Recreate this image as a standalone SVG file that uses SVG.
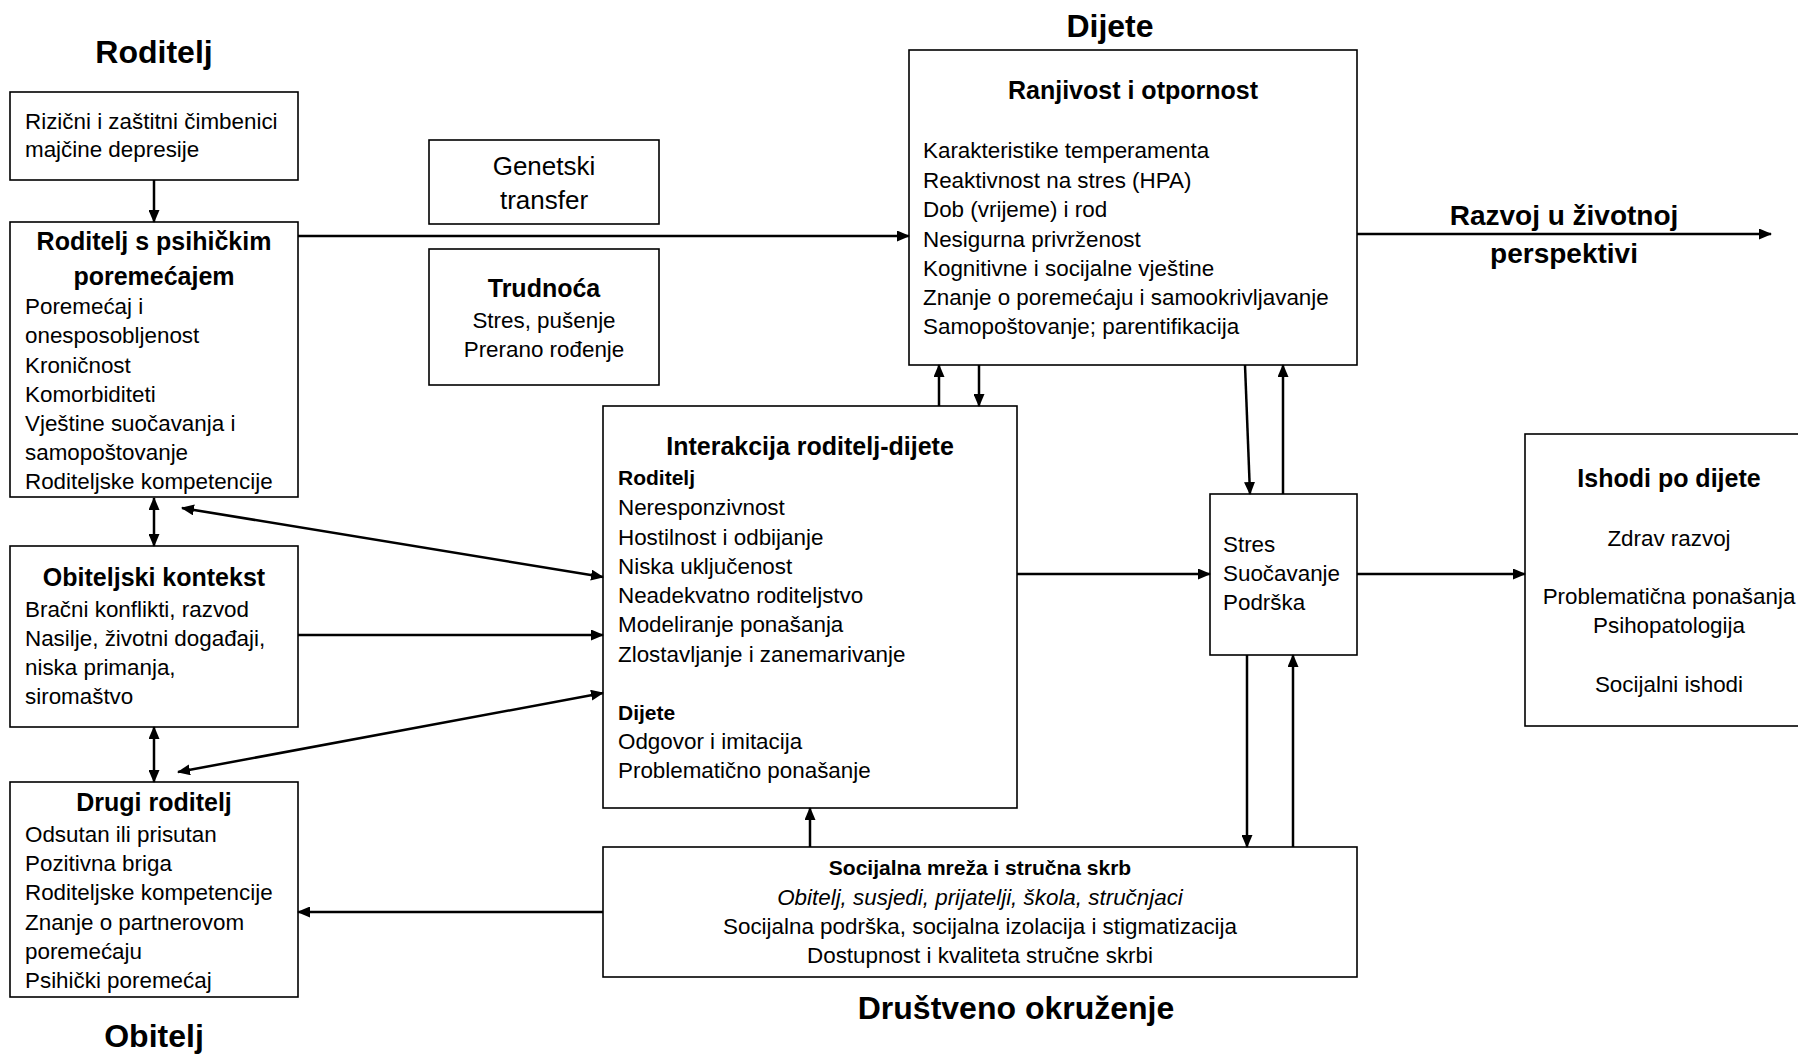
<svg xmlns="http://www.w3.org/2000/svg" width="1798" height="1054" viewBox="0 0 1798 1054">
<defs>
<style>
.bg{fill:#fff}
.box{fill:#fff;stroke:#000;stroke-width:1.6}
text{font-family:"Liberation Sans",Arial,sans-serif;font-size:22.4px;fill:#000}
.h{font-weight:bold;font-size:25px}
.sub{font-weight:bold;font-size:21px}
.c{text-anchor:middle}
.title{font-weight:bold;font-size:32px;text-anchor:middle}
.big{font-weight:bold;font-size:28px;text-anchor:middle}
.gen{font-size:26px;text-anchor:middle}
.it{font-style:italic}
.conn line{stroke:#000;stroke-width:2.5;fill:none}
</style>
<marker id="ah" markerUnits="userSpaceOnUse" markerWidth="13" markerHeight="11" refX="12" refY="5.5" orient="auto-start-reverse">
<path d="M0,0 L13,5.5 L0,11 z" fill="#000"/>
</marker>
</defs>
<rect class="bg" x="0" y="0" width="1798" height="1054"/>

<g id="titles">
<text class="title" x="154" y="63">Roditelj</text>
<text class="title" x="1110" y="37">Dijete</text>
<text class="title" x="154" y="1047">Obitelj</text>
<text class="title" x="1016" y="1019">Društveno okruženje</text>
<text class="big" x="1564" y="225">Razvoj u životnoj</text>
<text class="big" x="1564" y="263">perspektivi</text>
</g>

<g id="node-rizicni">
<rect class="box" x="10" y="92" width="288" height="88"/>
<text x="25" y="129">Rizični i zaštitni čimbenici</text>
<text x="25" y="157">majčine depresije</text>
</g>

<g id="node-roditelj-poremecaj">
<rect class="box" x="10" y="222" width="288" height="275"/>
<text class="h c" x="154" y="250">Roditelj s psihičkim</text>
<text class="h c" x="154" y="285">poremećajem</text>
<text x="25" y="314">Poremećaj i</text>
<text x="25" y="343">onesposobljenost</text>
<text x="25" y="373">Kroničnost</text>
<text x="25" y="402">Komorbiditeti</text>
<text x="25" y="431">Vještine suočavanja i</text>
<text x="25" y="460">samopoštovanje</text>
<text x="25" y="489">Roditeljske kompetencije</text>
</g>

<g id="node-genetski">
<rect class="box" x="429" y="140" width="230" height="84"/>
<text class="gen" x="544" y="175">Genetski</text>
<text class="gen" x="544" y="209">transfer</text>
</g>

<g id="node-trudnoca">
<rect class="box" x="429" y="249" width="230" height="136"/>
<text class="h c" x="544" y="297">Trudnoća</text>
<text class="c" x="544" y="328">Stres, pušenje</text>
<text class="c" x="544" y="357">Prerano rođenje</text>
</g>

<g id="node-ranjivost">
<rect class="box" x="909" y="50" width="448" height="315"/>
<text class="h c" x="1133" y="99">Ranjivost i otpornost</text>
<text x="923" y="158">Karakteristike temperamenta</text>
<text x="923" y="188">Reaktivnost na stres (HPA)</text>
<text x="923" y="217">Dob (vrijeme) i rod</text>
<text x="923" y="247">Nesigurna privrženost</text>
<text x="923" y="276">Kognitivne i socijalne vještine</text>
<text x="923" y="305">Znanje o poremećaju i samookrivljavanje</text>
<text x="923" y="334">Samopoštovanje; parentifikacija</text>
</g>

<g id="node-interakcija">
<rect class="box" x="603" y="406" width="414" height="402"/>
<text class="h c" x="810" y="455">Interakcija roditelj-dijete</text>
<text class="sub" x="618" y="485">Roditelj</text>
<text x="618" y="515">Neresponzivnost</text>
<text x="618" y="545">Hostilnost i odbijanje</text>
<text x="618" y="574">Niska uključenost</text>
<text x="618" y="603">Neadekvatno roditeljstvo</text>
<text x="618" y="632">Modeliranje ponašanja</text>
<text x="618" y="662">Zlostavljanje i zanemarivanje</text>
<text class="sub" x="618" y="720">Dijete</text>
<text x="618" y="749">Odgovor i imitacija</text>
<text x="618" y="778">Problematično ponašanje</text>
</g>

<g id="node-stres">
<rect class="box" x="1210" y="494" width="147" height="161"/>
<text x="1223" y="552">Stres</text>
<text x="1223" y="581">Suočavanje</text>
<text x="1223" y="610">Podrška</text>
</g>

<g id="node-ishodi">
<rect class="box" x="1525" y="434" width="290" height="292"/>
<text class="h c" x="1669" y="487">Ishodi po dijete</text>
<text class="c" x="1669" y="546">Zdrav razvoj</text>
<text class="c" x="1669" y="604">Problematična ponašanja</text>
<text class="c" x="1669" y="633">Psihopatologija</text>
<text class="c" x="1669" y="692">Socijalni ishodi</text>
</g>

<g id="node-socijalna">
<rect class="box" x="603" y="847" width="754" height="130"/>
<text class="sub c" x="980" y="875">Socijalna mreža i stručna skrb</text>
<text class="c it" x="980" y="905">Obitelj, susjedi, prijatelji, škola, stručnjaci</text>
<text class="c" x="980" y="934">Socijalna podrška, socijalna izolacija i stigmatizacija</text>
<text class="c" x="980" y="963">Dostupnost i kvaliteta stručne skrbi</text>
</g>

<g id="node-obiteljski">
<rect class="box" x="10" y="546" width="288" height="181"/>
<text class="h c" x="154" y="586">Obiteljski kontekst</text>
<text x="25" y="617">Bračni konflikti, razvod</text>
<text x="25" y="646">Nasilje, životni događaji,</text>
<text x="25" y="675">niska primanja,</text>
<text x="25" y="704">siromaštvo</text>
</g>

<g id="node-drugi">
<rect class="box" x="10" y="782" width="288" height="215"/>
<text class="h c" x="154" y="811">Drugi roditelj</text>
<text x="25" y="842">Odsutan ili prisutan</text>
<text x="25" y="871">Pozitivna briga</text>
<text x="25" y="900">Roditeljske kompetencije</text>
<text x="25" y="930">Znanje o partnerovom</text>
<text x="25" y="959">poremećaju</text>
<text x="25" y="988">Psihički poremećaj</text>
</g>

<g id="connectors" class="conn">
<line x1="154" y1="180" x2="154" y2="222" marker-end="url(#ah)"/>
<line x1="298" y1="236" x2="909" y2="236" marker-end="url(#ah)"/>
<line x1="1357" y1="234" x2="1771" y2="234" marker-end="url(#ah)"/>
<line x1="939" y1="406" x2="939" y2="365" marker-end="url(#ah)"/>
<line x1="979" y1="365" x2="979" y2="406" marker-end="url(#ah)"/>
<line x1="1245" y1="365" x2="1250" y2="494" marker-end="url(#ah)"/>
<line x1="1283" y1="494" x2="1283" y2="365" marker-end="url(#ah)"/>
<line x1="1017" y1="574" x2="1210" y2="574" marker-end="url(#ah)"/>
<line x1="1357" y1="574" x2="1525" y2="574" marker-end="url(#ah)"/>
<line x1="1247" y1="655" x2="1247" y2="847" marker-end="url(#ah)"/>
<line x1="1293" y1="847" x2="1293" y2="655" marker-end="url(#ah)"/>
<line x1="810" y1="847" x2="810" y2="808" marker-end="url(#ah)"/>
<line x1="603" y1="912" x2="298" y2="912" marker-end="url(#ah)"/>
<line x1="154" y1="498" x2="154" y2="546" marker-start="url(#ah)" marker-end="url(#ah)"/>
<line x1="154" y1="727" x2="154" y2="782" marker-start="url(#ah)" marker-end="url(#ah)"/>
<line x1="182" y1="508" x2="603" y2="577" marker-start="url(#ah)" marker-end="url(#ah)"/>
<line x1="298" y1="635" x2="603" y2="635" marker-end="url(#ah)"/>
<line x1="178" y1="772" x2="603" y2="693" marker-start="url(#ah)" marker-end="url(#ah)"/>
</g>
</svg>
